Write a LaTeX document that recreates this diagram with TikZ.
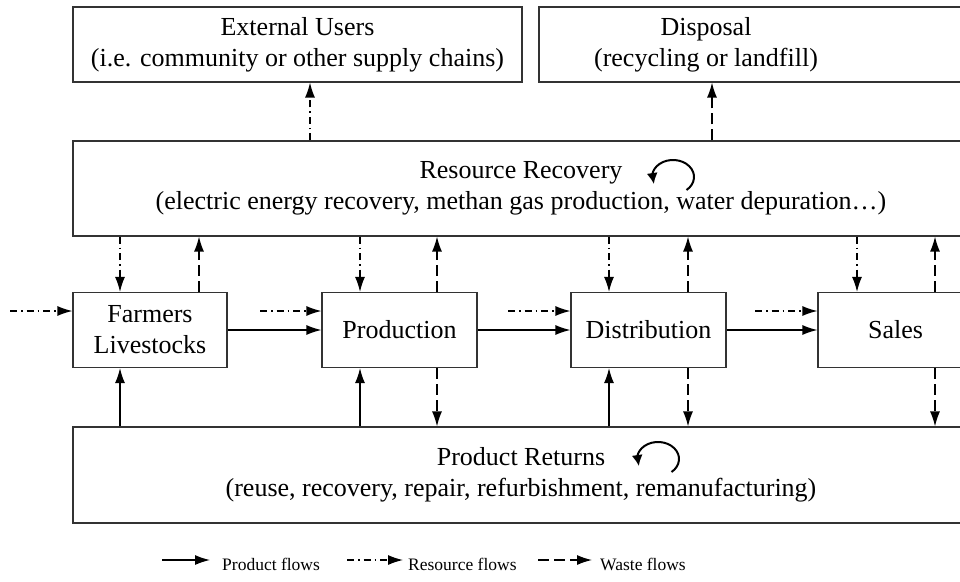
\documentclass[tikz,border=0pt]{standalone}
\usepackage{fontspec}
\setmainfont{Liberation Serif}
\usetikzlibrary{arrows.meta}
\begin{document}
\begin{tikzpicture}[x=1pt,y=-1pt,
  box/.style={draw=black!80, line width=1.2pt, inner sep=0pt, align=center, font=\fontsize{26}{31}\selectfont},
  lbl/.style={inner sep=0pt, align=center, font=\fontsize{26}{31}\selectfont},
  arr/.style={line width=1.3pt, -{Latex[length=15pt,width=10pt]}},
  prodf/.style={arr},
  resf/.style={arr, dash pattern=on 7pt off 4pt on 1.5pt off 4pt},
  wastef/.style={arr, dash pattern=on 11pt off 5pt},
  cyc/.style={line width=2pt, -{Latex[length=11pt,width=11pt]}},
  leg/.style={inner sep=0pt, anchor=base west, font=\fontsize{17.5}{20}\selectfont}]
\useasboundingbox (0,0) rectangle (960,581);
\clip (0,0) rectangle (960,581);

% boxes
\node[box, minimum width=449pt, minimum height=75pt] (ext) at (297.5,44.5) {External Users\\(i.e. community or other supply chains)};
\node[box, minimum width=436pt, minimum height=75pt] (disp) at (757,44.5) {};
\node[lbl] (dispt) at (706,44.5) {Disposal\\(recycling or landfill)};
\node[box, minimum width=896pt, minimum height=95pt] (rr) at (521,188.5) {Resource Recovery\\(electric energy recovery, methan gas production, water depuration…)};
\node[box, minimum width=154pt, minimum height=75pt] (ff) at (150,330) {Farmers\\Livestocks};
\node[box, minimum width=155pt, minimum height=75pt] (prod) at (399.5,330) {Production};
\node[box, minimum width=155pt, minimum height=75pt] (di) at (648.5,330) {Distribution};
\node[box, minimum width=155pt, minimum height=75pt] (sa) at (895.5,330) {Sales};
\node[box, minimum width=896pt, minimum height=96pt] (ret) at (521,475) {Product Returns\\(reuse, recovery, repair, refurbishment, remanufacturing)};

% cycle icons
\draw[cyc] (673,177) ++(13.5,13) arc[start angle=50, end angle=-170, x radius=21, y radius=17] -- ++(1.5,10);
\draw[cyc] (658,459) ++(13.5,13) arc[start angle=50, end angle=-170, x radius=21, y radius=17] -- ++(1.5,10);

% column coordinates
\coordinate (x1) at (120,0);
\coordinate (x2) at (199,0);
\coordinate (x3) at (360,0);
\coordinate (x4) at (437,0);
\coordinate (x5) at (609,0);
\coordinate (x6) at (688,0);
\coordinate (x7) at (857,0);
\coordinate (x8) at (935,0);
\coordinate (xe) at (310,0);
\coordinate (xd) at (712,0);

% vertical flows
\draw[resf] (rr.south -| x1) -- (ff.north -| x1);
\draw[wastef] (ff.north -| x2) -- (rr.south -| x2);
\draw[prodf] (ret.north -| x1) -- (ff.south -| x1);

\draw[resf] (rr.south -| x3) -- (prod.north -| x3);
\draw[wastef] (prod.north -| x4) -- (rr.south -| x4);
\draw[prodf] (ret.north -| x3) -- (prod.south -| x3);
\draw[wastef] (prod.south -| x4) -- (ret.north -| x4);

\draw[resf] (rr.south -| x5) -- (di.north -| x5);
\draw[wastef] (di.north -| x6) -- (rr.south -| x6);
\draw[prodf] (ret.north -| x5) -- (di.south -| x5);
\draw[wastef] (di.south -| x6) -- (ret.north -| x6);

\draw[resf] (rr.south -| x7) -- (sa.north -| x7);
\draw[wastef] (sa.north -| x8) -- (rr.south -| x8);
\draw[wastef] (sa.south -| x8) -- (ret.north -| x8);

\draw[resf] (rr.north -| xe) -- (ext.south -| xe);
\draw[wastef] (rr.north -| xd) -- (disp.south -| xd);

% horizontal flows
\coordinate (s0) at (10,311);
\coordinate (s1) at (260,311);
\coordinate (s2) at (508,311);
\coordinate (s3) at (755,311);
\draw[resf] (s0) -- (ff.west |- s0);
\draw[resf] (s1) -- (prod.west |- s1);
\draw[resf] (s2) -- (di.west |- s2);
\draw[resf] (s3) -- (sa.west |- s3);
\draw[prodf] (ff) -- (prod);
\draw[prodf] (prod) -- (di);
\draw[prodf] (di) -- (sa);

% legend
\coordinate (la1) at (162,560); \coordinate (la2) at (210,560);
\coordinate (lb1) at (347,560); \coordinate (lb2) at (403,560);
\coordinate (lc1) at (538,560); \coordinate (lc2) at (592,560);
\draw[prodf] (la1) -- (la2);
\draw[resf] (lb1) -- (lb2);
\draw[wastef] (lc1) -- (lc2);
\node[leg] (lta) at (222,570) {Product flows};
\node[leg] (ltb) at (408,570) {Resource flows};
\node[leg] (ltc) at (600,570) {Waste flows};
\end{tikzpicture}
\end{document}
